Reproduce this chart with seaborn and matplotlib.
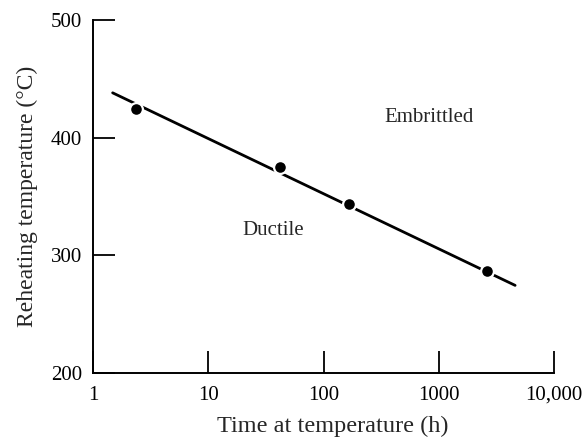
import numpy as np
import pandas as pd
import matplotlib
matplotlib.use('Agg')
import matplotlib.pyplot as plt
import seaborn as sns

# Data
hours = [2.35, 42, 165, 2600]
temps = [424, 375, 344, 287]
fit_hours = [1.48, 4600]
fit_temps = [438, 274.5]
x_ticks = [1, 10, 100, 1000, 10000]
x_tick_labels = ['1', '10', '100', '1000', '10,000']
y_ticks = [200, 300, 400, 500]

sns.set_theme(style='ticks')
plt.rcParams['font.family'] = ['Liberation Serif', 'DejaVu Serif']

fig = plt.figure(figsize=(5.85, 4.4), dpi=100)
ax = fig.add_axes([0.159, 0.152, 0.788, 0.803])

df_fit = pd.DataFrame({'time': fit_hours, 'temp': fit_temps})
df_pts = pd.DataFrame({'time': hours, 'temp': temps})

sns.lineplot(data=df_fit, x='time', y='temp', ax=ax, color='black', linewidth=2)
sns.scatterplot(data=df_pts, x='time', y='temp', ax=ax, color='black', s=85,
                edgecolor='white', linewidth=1.6, zorder=3)

ax.set_xscale('log')
ax.set_xlim(1, 10000)
ax.set_ylim(200, 500)
ax.set_xticks(x_ticks)
ax.set_xticklabels(x_tick_labels)
ax.xaxis.set_minor_locator(matplotlib.ticker.NullLocator())
ax.set_yticks(y_ticks)
ax.tick_params(direction='in', length=16, width=1.3, labelsize=15, colors='black')
ax.tick_params(axis='x', pad=9)
ax.tick_params(axis='y', pad=8)

for s in ['top', 'right']:
    ax.spines[s].set_visible(False)
for s in ['left', 'bottom']:
    ax.spines[s].set_linewidth(1.4)
    ax.spines[s].set_color('black')

ax.set_xlabel('Time at temperature (h)', fontsize=17.5)
ax.xaxis.set_label_coords(0.52, -0.122)
ax.set_ylabel('Reheating temperature (°C)', fontsize=17, labelpad=9)

ax.text(823, 417, 'Embrittled', fontsize=15, ha='center', va='center')
ax.text(36.5, 321.5, 'Ductile', fontsize=15, ha='center', va='center')

fig.savefig('out.png', dpi=100)
